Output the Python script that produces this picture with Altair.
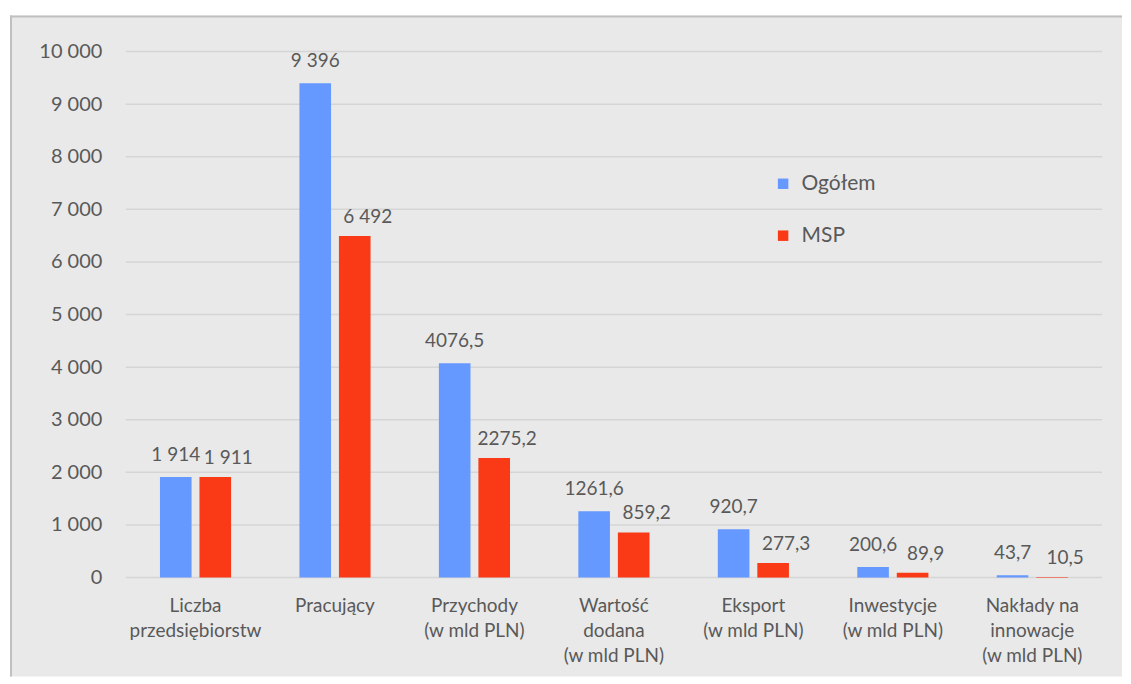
import altair as alt
import pandas as pd

categories = [
    "Liczba\nprzedsiębiorstw",
    "Pracujący",
    "Przychody\n(w mld PLN)",
    "Wartość\ndodana\n(w mld PLN)",
    "Eksport\n(w mld PLN)",
    "Inwestycje\n(w mld PLN)",
    "Nakłady na\ninnowacje\n(w mld PLN)",
]
series_names = ["Ogółem", "MSP"]
ogolem_values = [1914, 9396, 4076.5, 1261.6, 920.7, 200.6, 43.7]
msp_values = [1911, 6492, 2275.2, 859.2, 277.3, 89.9, 10.5]
ogolem_labels = ["1 914", "9 396", "4076,5", "1261,6", "920,7", "200,6", "43,7"]
msp_labels = ["1 911", "6 492", "2275,2", "859,2", "277,3", "89,9", "10,5"]
y_ticks = list(range(0, 10001, 1000))
colors = ["#6699FF", "#FA3A16"]

rows = []
for c, v, l in zip(categories, ogolem_values, ogolem_labels):
    rows.append({"cat": c, "series": "Ogółem", "value": v, "label": l})
for c, v, l in zip(categories, msp_values, msp_labels):
    rows.append({"cat": c, "series": "MSP", "value": v, "label": l})
df = pd.DataFrame(rows)
grid_df = pd.DataFrame({"value": y_ticks})

W, H = 978, 527
TXT = "#595959"

x_enc = alt.X(
    "cat:N",
    sort=categories,
    scale=alt.Scale(paddingInner=0.49, paddingOuter=0.245),
    axis=alt.Axis(
        title=None,
        labelAngle=0,
        domain=False,
        ticks=False,
        grid=False,
        zindex=1,
        labelFontSize=19,
        labelColor=TXT,
        labelPadding=19,
        labelLineHeight=25,
        labelLimit=0,
        labelExpr="split(datum.label, '\\n')",
    ),
)
xoff = alt.XOffset(
    "series:N", sort=series_names, scale=alt.Scale(paddingInner=0.2, paddingOuter=0)
)
y_enc = alt.Y(
    "value:Q",
    scale=alt.Scale(domain=[0, 10000], nice=False),
    axis=alt.Axis(
        title=None,
        values=y_ticks,
        domain=False,
        ticks=False,
        grid=False,
        zindex=1,
        labelFontSize=20,
        labelColor=TXT,
        labelPadding=24,
        labelExpr="replace(format(datum.value, ','), ',', ' ')",
    ),
)

one = alt.Data(values=[{"a": 1}])
bg = alt.Chart(one).mark_rect(color="#E9E9E9").encode(
    x=alt.value(-116), x2=alt.value(998), y=alt.value(-36), y2=alt.value(626)
)
top_border = alt.Chart(one).mark_rule(color="#C0C0C0", strokeWidth=2).encode(
    x=alt.value(-116), x2=alt.value(998), y=alt.value(-35)
)
left_border = alt.Chart(one).mark_rule(color="#C0C0C0", strokeWidth=2).encode(
    x=alt.value(-115), y=alt.value(-36), y2=alt.value(626)
)
grid = alt.Chart(grid_df).mark_rule(color="#D5D5D5", strokeWidth=1.5).encode(
    y=y_enc, x=alt.value(0), x2=alt.value(W)
)

base = alt.Chart(df)
bars = base.mark_bar().encode(
    x=x_enc,
    xOffset=xoff,
    y=alt.Y("value:Q"),
    color=alt.Color(
        "series:N",
        sort=series_names,
        scale=alt.Scale(domain=series_names, range=colors),
        legend=alt.Legend(
            title=None,
            orient="none",
            legendX=648,
            legendY=122,
            symbolType="square",
            symbolSize=110,
            symbolStrokeWidth=0,
            labelFontSize=21,
            labelColor=TXT,
            labelOffset=8,
            rowPadding=30,
            padding=0,
        ),
    ),
)
text_blue = base.transform_filter(alt.datum.series == "Ogółem").mark_text(
    fontSize=19, color=TXT, baseline="alphabetic", dy=-16
).encode(
    x=alt.X("cat:N", sort=categories),
    xOffset=alt.XOffset("series:N", sort=series_names),
    y=alt.Y("value:Q"),
    text="label:N",
)
text_red = base.transform_filter(alt.datum.series == "MSP").mark_text(
    fontSize=19, color=TXT, baseline="alphabetic", dy=-13, dx=13
).encode(
    x=alt.X("cat:N", sort=categories),
    xOffset=alt.XOffset("series:N", sort=series_names),
    y=alt.Y("value:Q"),
    text="label:N",
)

chart = (
    alt.layer(bg, top_border, left_border, grid, bars, text_blue, text_red)
    .properties(
        width=W,
        height=H,
        padding={"left": 1, "top": 6, "right": 0, "bottom": 0},
        background="white",
    )
    .configure(font="Lato")
    .configure_view(stroke=None)
)

chart.save("out.html", embed_options={"renderer": "svg", "actions": False})
